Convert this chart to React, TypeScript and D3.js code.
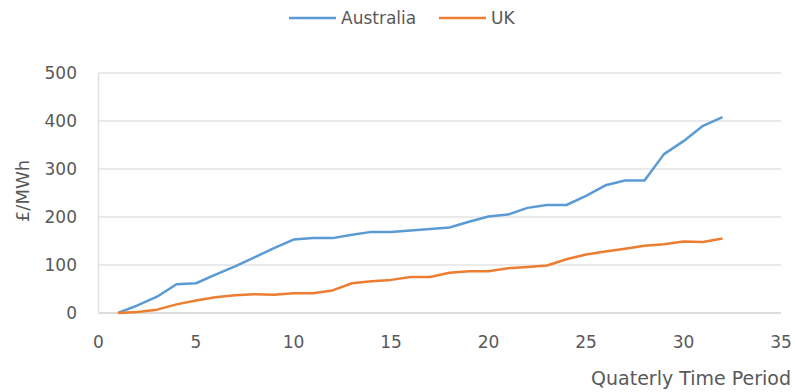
import React from "react";
import * as d3 from "d3";

const periods = Array.from({ length: 32 }, (_, i) => i + 1);
const australia = [0, 16, 34, 60, 62, 80, 97, 116, 135, 153, 156, 156, 163, 169, 169, 172, 175, 178, 190, 201, 205, 219, 225, 225, 244, 266, 276, 276, 331, 358, 390, 408];
const uk = [0, 2, 7, 18, 26, 33, 37, 39, 38, 41, 41, 47, 62, 66, 69, 75, 75, 84, 87, 87, 93, 96, 99, 112, 122, 128, 134, 140, 143, 149, 148, 155];
const xTicks = [0, 5, 10, 15, 20, 25, 30, 35];
const yTicks = [0, 100, 200, 300, 400, 500];
const seriesNames = ["Australia", "UK"];
const colors = ["#5B9BD5", "#ED7D31"];

export default function App() {
  const W = 795, H = 392;
  const x = d3.scaleLinear().domain([0, 35]).range([98.5, 781]);
  const y = d3.scaleLinear().domain([0, 500]).range([313, 73]);
  const line = d3.line<number>().x((_, i) => x(periods[i])).y((d) => y(d));
  const font = "'DejaVu Sans', sans-serif";
  const textColor = "#595959";
  const series = [australia, uk];
  const legendX = [289, 439];

  return (
    <svg width={W} height={H} style={{ position: "absolute", left: 0, top: 0, background: "#fff" }} fontFamily={font}>
      {yTicks.map((t) => (
        <line key={"g" + t} x1={x(0)} x2={x(35)} y1={y(t)} y2={y(t)} stroke={t === 0 ? "#d0d0d0" : "#e3e3e3"} strokeWidth={1.5} />
      ))}
      <line x1={x(0)} x2={x(0)} y1={y(500)} y2={y(0)} stroke="#e0e0e0" strokeWidth={1.5} />
      {yTicks.map((t) => (
        <text key={"y" + t} x={77} y={y(t)} dy="0.36em" textAnchor="end" fontSize={17} fill={textColor}>{t}</text>
      ))}
      {xTicks.map((t) => (
        <text key={"x" + t} x={x(t)} y={342} dy="0.36em" textAnchor="middle" fontSize={17} fill={textColor}>{t}</text>
      ))}
      <text transform={`translate(29,191) rotate(-90)`} textAnchor="middle" fontSize={18} fill={textColor}>£/MWh</text>
      <text x={791} y={385} textAnchor="end" fontSize={19} fill={textColor}>Quaterly Time Period</text>
      {series.map((s, k) => (
        <path key={"s" + k} d={line(s) || ""} fill="none" stroke={colors[k]} strokeWidth={2.5} strokeLinejoin="round" />
      ))}
      {seriesNames.map((n, k) => (
        <g key={"l" + k}>
          <line x1={legendX[k]} x2={legendX[k] + 47} y1={18} y2={18} stroke={colors[k]} strokeWidth={2.5} />
          <text x={legendX[k] + 52} y={18} dy="0.36em" fontSize={17} fill={textColor}>{n}</text>
        </g>
      ))}
    </svg>
  );
}
